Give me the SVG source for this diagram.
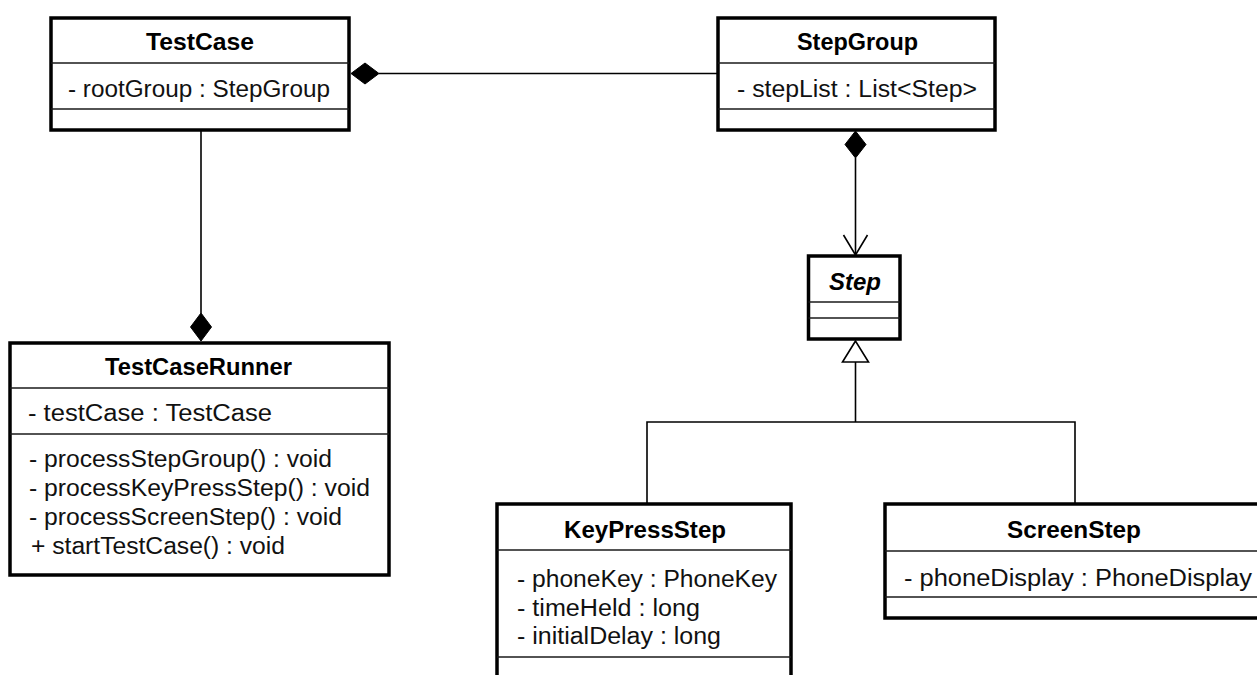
<svg xmlns="http://www.w3.org/2000/svg" width="1257" height="675" viewBox="0 0 1257 675">
  <style>
    .box { fill: #ffffff; stroke: #000000; stroke-width: 3.5; }
    .div { stroke: #1a1a1a; stroke-width: 1.6; fill: none; }
    .edge { stroke: #000000; stroke-width: 1.6; fill: none; }
    .comp { fill: #000000; stroke: #000000; stroke-width: 1; }
    .gen { fill: #ffffff; stroke: #000000; stroke-width: 1.6; }
    .nav { fill: none; stroke: #000000; stroke-width: 1.6; }
    text { font-family: "Liberation Sans", Arial, sans-serif; font-size: 23px; fill: #111111; }
    .name { font-weight: bold; text-anchor: middle; fill: #000000; }
    .abstract { font-style: italic; }
  </style>

  <rect width="1257" height="675" fill="#ffffff"/>

  <!-- associations and generalisations -->
  <g id="connectors">
    <!-- TestCase owns the root StepGroup -->
    <line class="edge" x1="379" y1="73.5" x2="718" y2="73.5"/>
    <polygon class="comp" points="351,73.5 365,63 379,73.5 365,84"/>
    <!-- TestCaseRunner owns the TestCase -->
    <line class="edge" x1="201" y1="130" x2="201" y2="313"/>
    <polygon class="comp" points="201,313 211.5,327 201,341 190.5,327"/>
    <!-- StepGroup holds a list of Steps -->
    <line class="edge" x1="855.5" y1="158" x2="855.5" y2="255"/>
    <polygon class="comp" points="855.5,131 866,144.5 855.5,158 845,144.5"/>
    <polyline class="nav" points="843.5,235 855.5,255 867.5,235"/>
    <!-- KeyPressStep and ScreenStep extend Step -->
    <polygon class="gen" points="855.5,341 842.5,362 868.5,362"/>
    <polyline class="edge" points="855.5,362 855.5,422"/>
    <polyline class="edge" points="647,504 647,422 1075,422 1075,504"/>
  </g>

  <g id="TestCase">
    <rect class="box" x="51" y="18" width="298" height="112"/>
    <line class="div" x1="51" y1="63" x2="349" y2="63"/>
    <line class="div" x1="51" y1="109" x2="349" y2="109"/>
    <text class="name" x="200" y="50" textLength="108" lengthAdjust="spacingAndGlyphs">TestCase</text>
    <text x="68" y="97" textLength="262" lengthAdjust="spacingAndGlyphs">- rootGroup : StepGroup</text>
  </g>

  <g id="StepGroup">
    <rect class="box" x="718" y="18" width="277" height="112"/>
    <line class="div" x1="718" y1="63" x2="995" y2="63"/>
    <line class="div" x1="718" y1="109" x2="995" y2="109"/>
    <text class="name" x="857.5" y="50" textLength="121" lengthAdjust="spacingAndGlyphs">StepGroup</text>
    <text x="737" y="97" textLength="240" lengthAdjust="spacingAndGlyphs">- stepList : List&lt;Step&gt;</text>
  </g>

  <g id="Step">
    <rect class="box" x="808.5" y="256" width="91.5" height="83"/>
    <line class="div" x1="808.5" y1="302" x2="900" y2="302"/>
    <line class="div" x1="808.5" y1="318" x2="900" y2="318"/>
    <text class="name abstract" x="855" y="290" textLength="52" lengthAdjust="spacingAndGlyphs">Step</text>
  </g>

  <g id="TestCaseRunner">
    <rect class="box" x="10" y="343" width="379" height="232"/>
    <line class="div" x1="10" y1="388" x2="389" y2="388"/>
    <line class="div" x1="10" y1="434" x2="389" y2="434"/>
    <text class="name" x="198.5" y="375" textLength="187" lengthAdjust="spacingAndGlyphs">TestCaseRunner</text>
    <text x="28" y="421" textLength="244" lengthAdjust="spacingAndGlyphs">- testCase : TestCase</text>
    <text x="29" y="467" textLength="303" lengthAdjust="spacingAndGlyphs">- processStepGroup() : void</text>
    <text x="29" y="496" textLength="341" lengthAdjust="spacingAndGlyphs">- processKeyPressStep() : void</text>
    <text x="29" y="525" textLength="313" lengthAdjust="spacingAndGlyphs">- processScreenStep() : void</text>
    <text x="31" y="554" textLength="254" lengthAdjust="spacingAndGlyphs">+ startTestCase() : void</text>
  </g>

  <g id="KeyPressStep">
    <rect class="box" x="497" y="504" width="294" height="200"/>
    <line class="div" x1="497" y1="550" x2="791" y2="550"/>
    <line class="div" x1="497" y1="657" x2="791" y2="657"/>
    <text class="name" x="645" y="538" textLength="162" lengthAdjust="spacingAndGlyphs">KeyPressStep</text>
    <text x="517" y="587" textLength="260" lengthAdjust="spacingAndGlyphs">- phoneKey : PhoneKey</text>
    <text x="517" y="616" textLength="183" lengthAdjust="spacingAndGlyphs">- timeHeld : long</text>
    <text x="517" y="644" textLength="204" lengthAdjust="spacingAndGlyphs">- initialDelay : long</text>
  </g>

  <g id="ScreenStep">
    <rect class="box" x="885" y="504" width="400" height="114"/>
    <line class="div" x1="885" y1="551" x2="1285" y2="551"/>
    <line class="div" x1="885" y1="597" x2="1285" y2="597"/>
    <text class="name" x="1074" y="538" textLength="134" lengthAdjust="spacingAndGlyphs">ScreenStep</text>
    <text x="904" y="586" textLength="348" lengthAdjust="spacingAndGlyphs">- phoneDisplay : PhoneDisplay</text>
  </g>
</svg>
